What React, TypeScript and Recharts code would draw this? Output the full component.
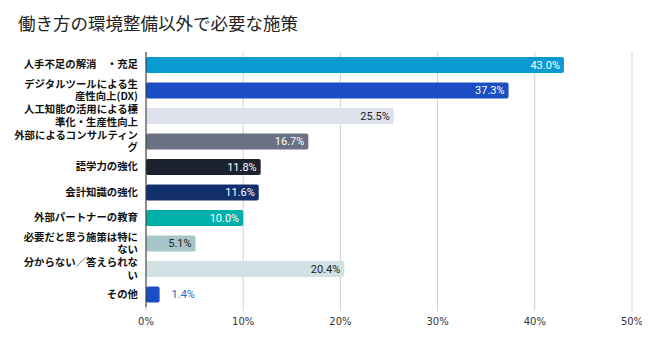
import React from "react";
import { BarChart, Bar, XAxis, YAxis, CartesianGrid, LabelList, Cell } from "recharts";

const categories: string[] = [
  "人手不足の解消　・充足",
  "デジタルツールによる生\n産性向上(DX)",
  "人工知能の活用による標\n準化・生産性向上",
  "外部によるコンサルティン\nグ",
  "語学力の強化",
  "会計知識の強化",
  "外部パートナーの教育",
  "必要だと思う施策は特に\nない",
  "分からない／答えられな\nい",
  "その他",
];
const values: number[] = [43.0, 37.3, 25.5, 16.7, 11.8, 11.6, 10.0, 5.1, 20.4, 1.4];
const xTicks: number[] = [0, 10, 20, 30, 40, 50];

const barColors = ["#0A9AD2", "#1A4EC2", "#DDE1EC", "#6A7184", "#1C2230", "#13306D", "#00B0AB", "#A8C5CA", "#D2E1E3", "#1A4EC2"];
const labelColors = ["#fff", "#fff", "#222", "#fff", "#fff", "#fff", "#fff", "#222", "#222", "#2F62D0"];

const data = categories.map((c, i) => ({ name: c, value: values[i] }));

const YTick = (props: any) => {
  const { x, y, payload } = props;
  const lines: string[] = String(payload.value).split("\n");
  const lh = 12.8;
  const startY = y - ((lines.length - 1) * lh) / 2;
  return (
    <text
      x={x}
      y={startY}
      textAnchor="end"
      fontSize={10.4}
      fontWeight="bold"
      fill="#111"
      fontFamily="'Noto Sans CJK JP', sans-serif"
    >
      {lines.map((l, i) => (
        <tspan key={i} x={x} y={startY + i * lh} dy="0.36em">
          {l}
        </tspan>
      ))}
    </text>
  );
};

const BarLabel = (props: any) => {
  const { x, y, width, height, value, index } = props;
  const text = `${Number(value).toFixed(1)}%`;
  const inside = width > 30;
  return (
    <text
      x={inside ? x + width - 4 : x + width + 12}
      y={y + height / 2}
      dy="0.36em"
      textAnchor={inside ? "end" : "start"}
      fontSize={11}
      fill={labelColors[index]}
      fontFamily="Roboto, sans-serif"
    >
      {text}
    </text>
  );
};

export default function App() {
  return (
    <div style={{ width: 650, height: 347, position: "relative", margin: -8, background: "#fff" }}>
      <div
        style={{
          position: "absolute",
          left: 18,
          top: 11,
          fontSize: 17.5,
          fontFamily: "'Noto Sans CJK JP', sans-serif",
          color: "#222",
          lineHeight: "24px",
          whiteSpace: "nowrap",
        }}
      >
        働き方の環境整備以外で必要な施策
      </div>
      <BarChart
        width={650}
        height={347}
        data={data}
        layout="vertical"
        margin={{ top: 52, right: 18, bottom: 10, left: 0 }}
        barCategoryGap={5}
      >
        <CartesianGrid horizontal={false} stroke="#d0d0d0" />
        <XAxis
          type="number"
          domain={[0, 50]}
          ticks={xTicks}
          tickFormatter={(v: number) => `${v}%`}
          axisLine={false}
          tickLine={{ stroke: "#d0d0d0" }}
          tickSize={4}
          tickMargin={7}
          height={30}
          tick={{ fontSize: 10, fill: "#333", fontFamily: "'DejaVu Sans', sans-serif" }}
        />
        <YAxis
          type="category"
          dataKey="name"
          width={146}
          tick={<YTick />}
          tickLine={false}
          tickSize={0}
          tickMargin={8}
          axisLine={{ stroke: "#333" }}
          interval={0}
        />
        <Bar dataKey="value" barSize={16} radius={2} isAnimationActive={false}>
          {data.map((d, i) => (
            <Cell key={i} fill={barColors[i]} />
          ))}
          <LabelList dataKey="value" content={<BarLabel />} />
        </Bar>
      </BarChart>
    </div>
  );
}
